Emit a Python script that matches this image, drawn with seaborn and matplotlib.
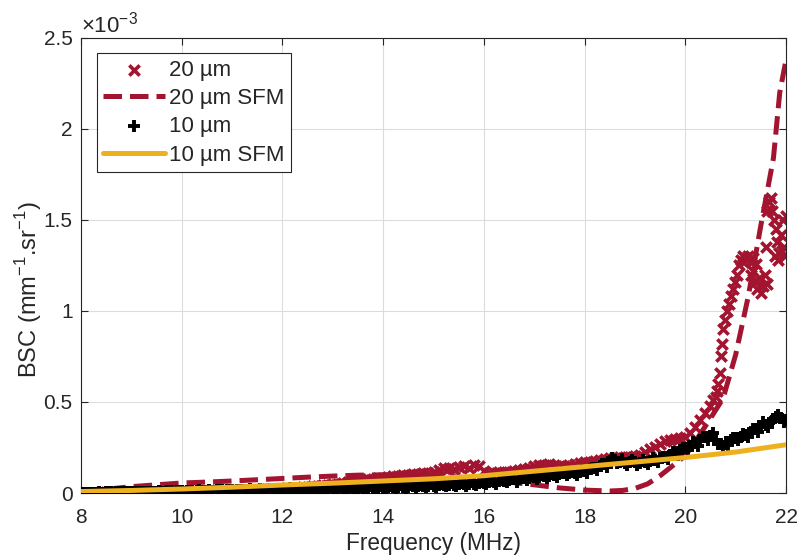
import numpy as np
import pandas as pd
import seaborn as sns
import matplotlib.pyplot as plt
from matplotlib.ticker import FuncFormatter

# ---- data (BSC in mm^-1.sr^-1, values in units of 1e-3) ----
freq_20 = [8.0, 8.1, 8.2, 8.3, 8.4, 8.5, 8.6, 8.7, 8.8, 8.9,
           9.0, 9.1, 9.2, 9.3, 9.4, 9.5, 9.6, 9.7, 9.8, 9.9,
           10.0, 10.1, 10.2, 10.3, 10.4, 10.5, 10.6, 10.7, 10.8, 10.9,
           11.0, 11.1, 11.2, 11.3, 11.4, 11.5, 11.6, 11.7, 11.8, 11.9,
           12.0, 12.1, 12.2, 12.3, 12.4, 12.5, 12.6, 12.7, 12.8, 12.9,
           13.0, 13.1, 13.2, 13.3, 13.4, 13.5, 13.6, 13.7, 13.8, 13.9,
           14.0, 14.1, 14.2, 14.3, 14.4, 14.5, 14.6, 14.7, 14.8, 14.9,
           15.0, 15.1, 15.2, 15.3, 15.4, 15.5, 15.6, 15.7, 15.8, 15.9,
           16.0, 16.1, 16.2, 16.3, 16.4, 16.5, 16.6, 16.7, 16.8, 16.9,
           17.0, 17.1, 17.2, 17.3, 17.4, 17.5, 17.6, 17.7, 17.8, 17.9,
           18.0, 18.1, 18.2, 18.3, 18.4, 18.5, 18.6, 18.7, 18.8, 18.9,
           19.0, 19.1, 19.2, 19.3, 19.4, 19.5, 19.6, 19.7, 19.8, 19.9,
           20.0, 20.1, 20.2, 20.3, 20.4, 20.5, 20.55, 20.6, 20.63, 20.65,
           20.68, 20.71, 20.73, 20.75, 20.78, 20.82, 20.86, 20.9, 20.94, 20.98,
           21.02, 21.06, 21.1, 21.15, 21.2, 21.25, 21.3, 21.35, 21.4,
           21.3, 21.35, 21.38, 21.42, 21.46, 21.5, 21.54, 21.58, 21.62,
           21.6, 21.63, 21.66, 21.7, 21.73, 21.76, 21.8, 21.83, 21.86, 21.9,
           21.93, 21.96, 22.0, 21.78, 21.85, 21.92, 21.98]
bsc_20 = [0.001, 0.001, 0.002, 0.002, 0.003, 0.003, 0.004, 0.004, 0.005, 0.005,
          0.005, 0.006, 0.006, 0.007, 0.007, 0.008, 0.008, 0.009, 0.009, 0.009,
          0.010, 0.010, 0.011, 0.011, 0.012, 0.012, 0.013, 0.014, 0.014, 0.015,
          0.016, 0.016, 0.017, 0.018, 0.018, 0.019, 0.020, 0.021, 0.021, 0.022,
          0.024, 0.026, 0.028, 0.030, 0.032, 0.035, 0.037, 0.040, 0.042, 0.045,
          0.048, 0.052, 0.056, 0.060, 0.064, 0.068, 0.072, 0.075, 0.078, 0.080,
          0.085, 0.088, 0.091, 0.094, 0.097, 0.100, 0.103, 0.106, 0.108, 0.111,
          0.115, 0.125, 0.135, 0.140, 0.132, 0.145, 0.150, 0.138, 0.152, 0.146,
          0.120, 0.112, 0.110, 0.113, 0.115, 0.117, 0.120, 0.125, 0.130, 0.140,
          0.150, 0.155, 0.152, 0.158, 0.155, 0.150, 0.148, 0.155, 0.160, 0.165,
          0.168, 0.170, 0.175, 0.180, 0.185, 0.190, 0.195, 0.198, 0.200, 0.200,
          0.205, 0.210, 0.225, 0.240, 0.255, 0.270, 0.285, 0.290, 0.295, 0.300,
          0.310, 0.330, 0.360, 0.400, 0.440, 0.480, 0.510, 0.530, 0.560, 0.600,
          0.660, 0.750, 0.820, 0.900, 0.950, 1.000, 1.040, 1.080, 1.120, 1.160,
          1.200, 1.250, 1.280, 1.300, 1.280, 1.300, 1.270, 1.290, 1.260,
          1.200, 1.220, 1.160, 1.120, 1.180, 1.100, 1.140, 1.200, 1.150,
          1.350, 1.550, 1.600, 1.620, 1.550, 1.500, 1.450, 1.380, 1.320, 1.420,
          1.500, 1.350, 1.520, 1.300, 1.280, 1.330, 1.300]

freq_20_sfm = [8.0, 8.5, 9.0, 9.5, 10.0, 10.5, 11.0, 11.5, 12.0, 12.5,
               13.0, 13.5, 14.0, 14.5, 15.0, 15.5, 16.0, 16.5, 17.0, 17.5,
               18.0, 18.5, 18.75, 19.0, 19.25, 19.5, 19.75, 20.0, 20.25, 20.5,
               20.75, 21.0, 21.25, 21.5, 21.75, 21.875, 22.0]
bsc_20_sfm = [0.005, 0.020, 0.035, 0.045, 0.055, 0.060, 0.066, 0.073, 0.080, 0.087,
              0.093, 0.098, 0.100, 0.100, 0.097, 0.088, 0.075, 0.060, 0.045, 0.028,
              0.016, 0.011, 0.014, 0.025, 0.050, 0.095, 0.150, 0.205, 0.305, 0.410,
              0.520, 0.760, 1.080, 1.470, 1.840, 2.200, 2.380]

# 10 um measurement: samples on the 0.1 MHz grid and the points in between
freq_10 = [round(8.0 + 0.1 * i, 1) for i in range(141)]
bsc_10 = [0.000, 0.001, 0.001, 0.002, 0.002, 0.003, 0.003, 0.004, 0.004, 0.005,
          0.005, 0.006, 0.006, 0.007, 0.007, 0.008, 0.008, 0.009, 0.009, 0.010,
          0.010, 0.011, 0.011, 0.012, 0.012, 0.013, 0.013, 0.014, 0.014, 0.015,
          0.015, 0.016, 0.016, 0.017, 0.017, 0.018, 0.018, 0.019, 0.019, 0.020,
          0.020, 0.021, 0.021, 0.022, 0.022, 0.023, 0.023, 0.024, 0.024, 0.025,
          0.025, 0.026, 0.026, 0.027, 0.027, 0.028, 0.028, 0.029, 0.029, 0.030,
          0.030, 0.031, 0.032, 0.033, 0.034, 0.035, 0.036, 0.037, 0.038, 0.039,
          0.040, 0.042, 0.043, 0.045, 0.046, 0.048, 0.049, 0.051, 0.052, 0.054,
          0.055, 0.058, 0.060, 0.065, 0.068, 0.070, 0.075, 0.078, 0.080, 0.085,
          0.088, 0.090, 0.092, 0.095, 0.100, 0.105, 0.110, 0.110, 0.112, 0.118,
          0.120, 0.130, 0.140, 0.150, 0.160, 0.175, 0.180, 0.170, 0.165, 0.170,
          0.168, 0.165, 0.170, 0.175, 0.180, 0.190, 0.200, 0.210, 0.225, 0.235,
          0.245, 0.260, 0.275, 0.290, 0.310, 0.315, 0.290, 0.270, 0.280, 0.290,
          0.300, 0.310, 0.320, 0.335, 0.350, 0.370, 0.375, 0.390, 0.420, 0.410,
          0.400]
freq_10_mid = [round(8.05 + 0.1 * i, 2) for i in range(140)]
bsc_10_mid = [0.000, 0.002, 0.000, 0.003, 0.001, 0.004, 0.002, 0.005, 0.003, 0.006,
              0.003, 0.007, 0.004, 0.008, 0.005, 0.009, 0.006, 0.010, 0.007, 0.011,
              0.007, 0.013, 0.008, 0.014, 0.009, 0.015, 0.010, 0.016, 0.011, 0.017,
              0.012, 0.019, 0.012, 0.020, 0.013, 0.021, 0.014, 0.022, 0.015, 0.024,
              0.016, 0.026, 0.016, 0.027, 0.017, 0.028, 0.018, 0.030, 0.019, 0.031,
              0.020, 0.032, 0.021, 0.034, 0.022, 0.035, 0.023, 0.036, 0.024, 0.038,
              0.025, 0.040, 0.026, 0.042, 0.028, 0.044, 0.030, 0.046, 0.032, 0.048,
              0.034, 0.050, 0.036, 0.053, 0.038, 0.056, 0.041, 0.059, 0.044, 0.062,
              0.048, 0.066, 0.052, 0.072, 0.058, 0.078, 0.062, 0.084, 0.070, 0.092,
              0.078, 0.098, 0.082, 0.106, 0.090, 0.114, 0.098, 0.118, 0.100, 0.125,
              0.112, 0.140, 0.128, 0.158, 0.145, 0.190, 0.165, 0.185, 0.155, 0.180,
              0.155, 0.180, 0.160, 0.190, 0.170, 0.200, 0.185, 0.225, 0.210, 0.250,
              0.235, 0.280, 0.260, 0.310, 0.290, 0.330, 0.270, 0.250, 0.265, 0.300,
              0.290, 0.325, 0.305, 0.350, 0.335, 0.390, 0.360, 0.405, 0.430, 0.390]

freq_10_sfm = [8.0, 9.0, 10.0, 11.0, 12.0, 13.0, 14.0, 15.0, 16.0, 17.0,
               18.0, 19.0, 20.0, 21.0, 22.0]
bsc_10_sfm = [0.008, 0.014, 0.022, 0.032, 0.044, 0.054, 0.066, 0.078, 0.095, 0.120,
              0.145, 0.170, 0.195, 0.225, 0.265]

red = "#A2142F"
yellow = "#EDB120"
ink = "#262626"

df20 = pd.DataFrame({"f": freq_20, "bsc": np.array(bsc_20) * 1e-3})
df20s = pd.DataFrame({"f": freq_20_sfm, "bsc": np.array(bsc_20_sfm) * 1e-3})
df10 = pd.DataFrame({"f": freq_10 + freq_10_mid,
                     "bsc": np.array(bsc_10 + bsc_10_mid) * 1e-3})
df10s = pd.DataFrame({"f": freq_10_sfm, "bsc": np.array(bsc_10_sfm) * 1e-3})

sns.set_theme(style="whitegrid")
plt.rcParams["font.family"] = ["Liberation Sans", "DejaVu Sans"]
plt.rcParams["mathtext.fontset"] = "custom"
plt.rcParams["mathtext.rm"] = "Liberation Sans"

fig = plt.figure(figsize=(7.98, 5.56), dpi=100)
ax = fig.add_axes([0.1015, 0.1133, 0.8835, 0.8184])

sns.scatterplot(data=df20, x="f", y="bsc", marker="x", color=red, s=55,
                linewidth=2.6, label="20 µm", ax=ax, zorder=2)
sns.lineplot(data=df20s, x="f", y="bsc", color=red, linewidth=3.6,
             linestyle="--", label="20 µm SFM", ax=ax, zorder=3)
sns.scatterplot(data=df10, x="f", y="bsc", marker="+", color="black", s=75,
                linewidth=2.8, label="10 µm", ax=ax, zorder=4)
sns.lineplot(data=df10s, x="f", y="bsc", color=yellow, linewidth=3.6,
             label="10 µm SFM", ax=ax, zorder=5)

ax.set_xlim(8, 22)
ax.set_ylim(0, 2.5e-3)
ax.set_xticks(np.arange(8, 23, 2))
ax.set_yticks(np.arange(0, 2.6e-3, 0.5e-3))
ax.yaxis.set_major_formatter(FuncFormatter(lambda v, p: f"{v * 1e3:g}"))
ax.text(0.0, 1.002, r"$\times10^{-3}$", transform=ax.transAxes,
        fontsize=16, color=ink, va="bottom", ha="left")

ax.set_xlabel("Frequency (MHz)", fontsize=16.3, color=ink, labelpad=4)
ax.set_ylabel(r"BSC (mm$^{-1}$.sr$^{-1}$)", fontsize=17, color=ink)
ax.yaxis.set_label_coords(-0.052, 0.446)

ax.grid(True, color="#dcdcdc", linewidth=0.8)
ax.set_facecolor("white")
for side in ax.spines.values():
    side.set_color(ink)
    side.set_linewidth(0.8)
ax.tick_params(direction="in", length=5, width=0.8, colors=ink,
               labelsize=15, top=True, right=True, bottom=True, left=True)
ax.tick_params(axis="x", pad=10.5)
ax.tick_params(axis="y", pad=6)

leg = ax.legend(loc="upper left", bbox_to_anchor=(0.022, 0.967), fontsize=16,
                handlelength=2.8, frameon=True, fancybox=False, framealpha=1,
                edgecolor=ink, borderpad=0.3, labelspacing=0.33,
                handletextpad=0.15, borderaxespad=0.0)
leg.get_frame().set_linewidth(0.8)

fig.savefig("out.png", dpi=100, facecolor="white")
